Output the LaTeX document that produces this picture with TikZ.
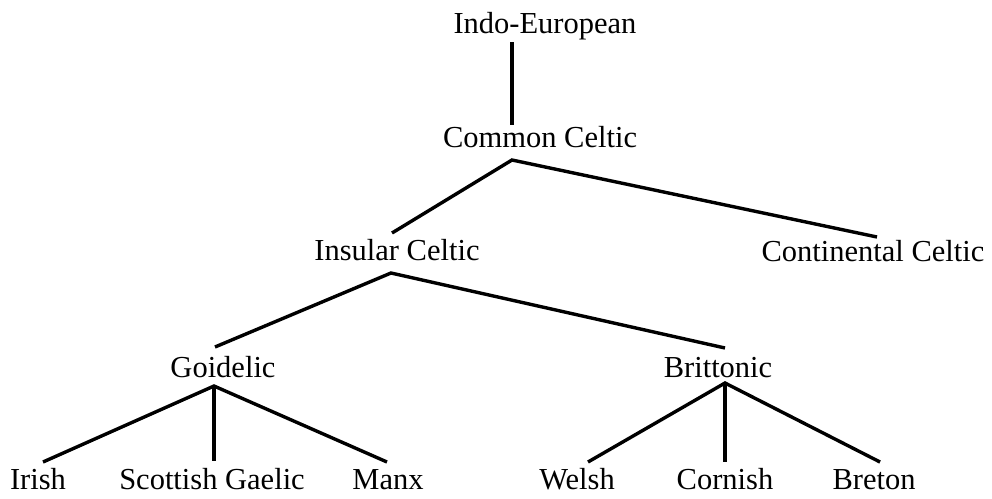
\documentclass[tikz,border=0pt]{standalone}
\usepackage{fontspec}
\setmainfont{Liberation Serif}
\begin{document}
\begin{tikzpicture}[x=1pt,y=-1pt,
  lang/.style={anchor=base,inner sep=0pt,font=\fontsize{30.5}{36}\selectfont},
  branch/.style={line width=3.4pt,black}]
\useasboundingbox (0,0) rectangle (992,498);
% language names
\node[lang] (ie)  at (545,33)  {Indo-European};
\node[lang] (cc)  at (540,147) {Common Celtic};
\node[lang] (ins) at (397,260) {Insular Celtic};
\node[lang] (con) at (873,261) {Continental Celtic};
\node[lang] (goi) at (223,377) {Goidelic};
\node[lang] (bri) at (718,377) {Brittonic};
\node[lang] (iri) at (38,489)  {Irish};
\node[lang] (sco) at (212,489) {Scottish Gaelic};
\node[lang] (mnx) at (388,489) {Manx};
\node[lang] (wel) at (577,489) {Welsh};
\node[lang] (cor) at (725,489) {Cornish};
\node[lang] (bre) at (874,489) {Breton};
% branch points and line ends
\coordinate (ie-b)   at (512,42);
\coordinate (cc-t)   at (512,125);
\coordinate (cc-b)   at (512,160);
\coordinate (ins-t)  at (392,233);
\coordinate (con-t)  at (877,237);
\coordinate (ins-b)  at (391,273);
\coordinate (goi-t)  at (215,347);
\coordinate (bri-t)  at (725,348);
\coordinate (goi-b)  at (214,386);
\coordinate (iri-t)  at (43,462);
\coordinate (sco-t)  at (214,461);
\coordinate (mnx-t)  at (387,462);
\coordinate (bri-b)  at (725,383);
\coordinate (wel-t)  at (588,462);
\coordinate (cor-t)  at (725,462);
\coordinate (bre-t)  at (880,462);
% family tree
\draw[branch] (ie-b) -- (cc-t);
\draw[branch] (ins-t) -- (cc-b) -- (con-t);
\draw[branch] (goi-t) -- (ins-b) -- (bri-t);
\draw[branch] (iri-t) -- (goi-b) -- (mnx-t);
\draw[branch] (goi-b) -- (sco-t);
\draw[branch] (wel-t) -- (bri-b) -- (bre-t);
\draw[branch] (bri-b) -- (cor-t);
\end{tikzpicture}
\end{document}
